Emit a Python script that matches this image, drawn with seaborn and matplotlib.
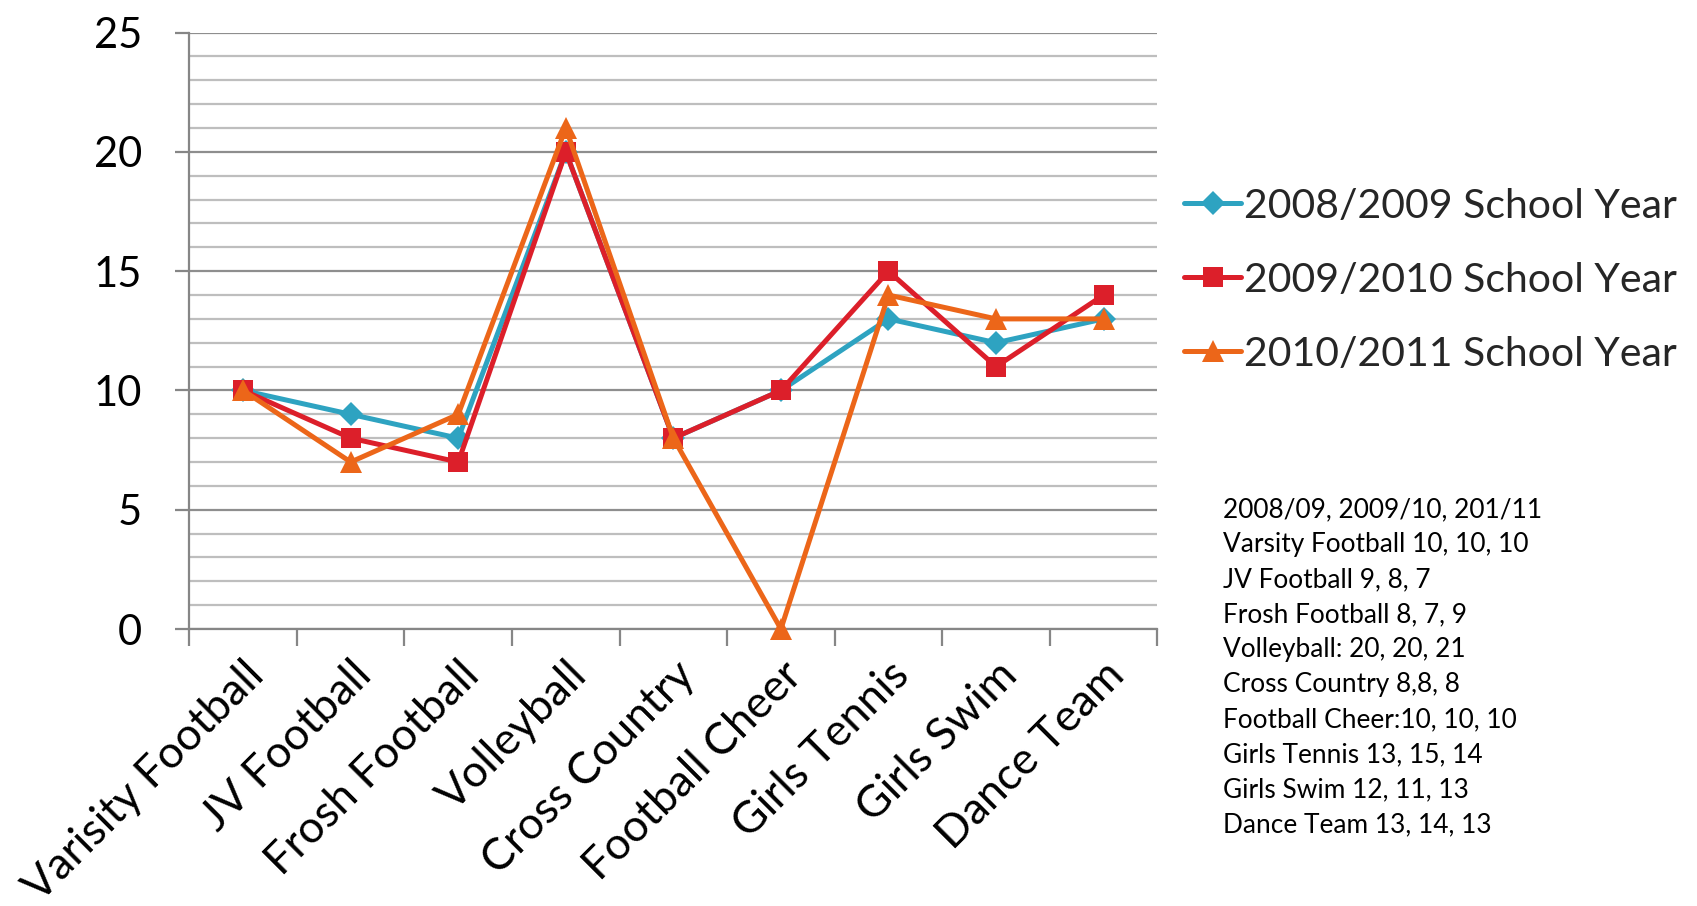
import matplotlib
matplotlib.use("Agg")
import matplotlib.pyplot as plt
from matplotlib.ticker import FixedLocator, MultipleLocator
import seaborn as sns
import pandas as pd

categories = ["Varisity Football", "JV Football", "Frosh Football", "Volleyball",
              "Cross Country", "Football Cheer", "Girls Tennis", "Girls Swim", "Dance Team"]
series_names = ["2008/2009 School Year", "2009/2010 School Year", "2010/2011 School Year"]
y2008 = [10, 9, 8, 20, 8, 10, 13, 12, 13]
y2009 = [10, 8, 7, 20, 8, 10, 15, 11, 14]
y2010 = [10, 7, 9, 21, 8, 0, 14, 13, 13]
y_ticks = [0, 5, 10, 15, 20, 25]
note_lines = ["2008/09, 2009/10, 201/11",
              "Varsity Football 10, 10, 10",
              "JV Football 9, 8, 7",
              "Frosh Football 8, 7, 9",
              "Volleyball: 20, 20, 21",
              "Cross Country 8,8, 8",
              "Football Cheer:10, 10, 10",
              "Girls Tennis 13, 15, 14",
              "Girls Swim 12, 11, 13",
              "Dance Team 13, 14, 13"]

colors = ["#2EA3C1", "#DC1F2A", "#EC6619"]
markers = ["D", "s", "^"]
msizes = [12, 14, 16]

sns.set_theme(style="white")
plt.rcParams["font.family"] = ["Lato", "DejaVu Sans"]

rows = []
for name, vals in zip(series_names, [y2008, y2009, y2010]):
    for c, v in zip(categories, vals):
        rows.append({"sport": c, "value": v, "year": name})
df = pd.DataFrame(rows)

fig = plt.figure(figsize=(16.97, 9.06), dpi=100)
ax = fig.add_axes([0.1116, 0.3057, 0.5704, 0.6583])

sns.lineplot(data=df, x="sport", y="value", hue="year", style="year",
             palette=dict(zip(series_names, colors)),
             markers=dict(zip(series_names, markers)), dashes=False,
             sort=False, linewidth=3.6, markeredgewidth=0, ax=ax, zorder=3)

for line, ms in zip(ax.get_lines()[:3], msizes):
    line.set_markersize(ms)
    line.set_clip_on(False)

ax.set_xlim(-0.5, len(categories) - 0.5)
ax.set_ylim(0, 25)
ax.set_xlabel("")
ax.set_ylabel("")

ax.yaxis.set_major_locator(FixedLocator(y_ticks))
ax.yaxis.set_minor_locator(MultipleLocator(1))
ax.grid(False)
ax.grid(which="minor", axis="y", color="#BEBEBE", linewidth=1.6, zorder=0)
ax.grid(which="major", axis="y", color="#8E8E8E", linewidth=1.6, zorder=0)
ax.set_axisbelow(True)

ax.set_xticks(range(len(categories)))
ax.set_xticklabels(categories)
ax.xaxis.set_minor_locator(FixedLocator([i - 0.5 for i in range(len(categories) + 1)]))

ax.tick_params(axis="y", which="major", labelsize=30, length=10, width=1.6,
               color="#868686", pad=24, labelcolor="black", left=True)
ax.tick_params(axis="y", which="minor", length=0)
ax.tick_params(axis="x", which="major", length=0, labelsize=32, pad=18, labelcolor="black")
ax.tick_params(axis="x", which="minor", length=12, width=1.6, color="#868686", bottom=True)
for lbl in ax.get_xticklabels():
    lbl.set_rotation(45)
    lbl.set_ha("right")
    lbl.set_va("top")
    lbl.set_rotation_mode("anchor")

for s in ["top", "right"]:
    ax.spines[s].set_visible(False)
for s in ["left", "bottom"]:
    ax.spines[s].set_color("#868686")
    ax.spines[s].set_linewidth(1.6)

handles, labels = ax.get_legend_handles_labels()
leg = ax.legend(handles[-3:], labels[-3:], loc="center left",
                bbox_to_anchor=(1.028, 0.585), frameon=False, fontsize=29.5,
                handlelength=1.37, handletextpad=0.08, labelspacing=0.9,
                borderaxespad=0, borderpad=0)
for h, ms in zip(leg.legend_handles, msizes):
    h.set_markersize(ms)
    h.set_linewidth(3.6)

fig.text(1223 / 1697, 1 - 497 / 906, "\n".join(note_lines), fontsize=18.9,
         va="top", ha="left", linespacing=1.5, color="black")

fig.savefig("out.png", dpi=100)
